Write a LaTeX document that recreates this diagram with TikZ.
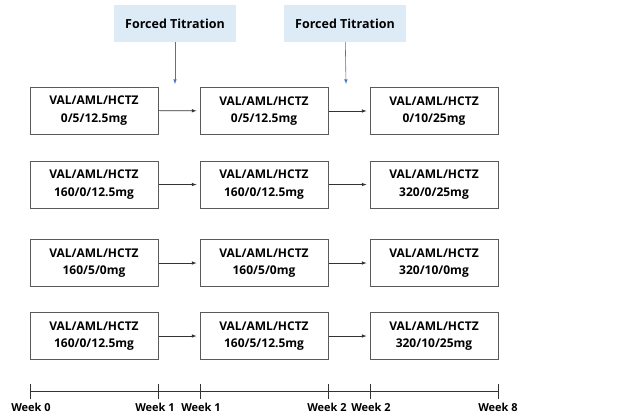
\documentclass[tikz,border=0pt]{standalone}
\usepackage{fontspec}
\setmainfont{Open Sans}
\usetikzlibrary{arrows,positioning,calc}
\definecolor{titrationblue}{RGB}{221,235,247}
\definecolor{arrowblue}{RGB}{68,114,196}
\definecolor{boxgray}{RGB}{90,90,90}

\begin{document}
\begin{tikzpicture}[
    x=1pt,y=-1pt,
    >=latex,
    dosebox/.style={draw=boxgray,line width=1pt,rectangle,minimum width=128pt,minimum height=47pt,align=center,font=\fontsize{12}{17.5}\selectfont\bfseries,inner sep=0pt},
    titbox/.style={draw=none,fill=titrationblue,rectangle,minimum width=122pt,minimum height=37pt,font=\fontsize{12.5}{15}\selectfont\bfseries},
    flow/.style={->,line width=0.6pt,black!80,shorten >=3pt},
    weeklabel/.style={draw=none,anchor=north,inner sep=0pt,font=\fontsize{11}{13}\selectfont\bfseries},
]
\useasboundingbox (0,0) rectangle (618,416);

% Forced titration
\node[titbox] (tit1) at (175,23.5) {Forced Titration};
\node[titbox] (tit2) at (345,23.5) {Forced Titration};
\coordinate (tip1) at (175,84);
\coordinate (tip2) at (346,84);
\draw[->,line width=0.6pt,arrowblue] (tit1) -- (tip1);
\draw[->,line width=0.6pt,arrowblue] (tit2) -- (tip2);

% Row 1
\node[dosebox] (a1) at (94,110.5) {VAL/AML/HCTZ\\0/5/12.5mg};
\node[dosebox] (a2) at (264,111) {VAL/AML/HCTZ\\0/5/12.5mg};
\node[dosebox] (a3) at (434,111) {VAL/AML/HCTZ\\0/10/25mg};

% Row 2
\node[dosebox] (b1) at (94,184.5) {VAL/AML/HCTZ\\160/0/12.5mg};
\node[dosebox] (b2) at (264,184.5) {VAL/AML/HCTZ\\160/0/12.5mg};
\node[dosebox] (b3) at (434,184.5) {VAL/AML/HCTZ\\320/0/25mg};

% Row 3
\node[dosebox] (c1) at (94,263) {VAL/AML/HCTZ\\160/5/0mg};
\node[dosebox] (c2) at (264,263) {VAL/AML/HCTZ\\160/5/0mg};
\node[dosebox] (c3) at (434,263) {VAL/AML/HCTZ\\320/10/0mg};

% Row 4
\node[dosebox] (d1) at (94,336) {VAL/AML/HCTZ\\160/0/12.5mg};
\node[dosebox] (d2) at (264,336) {VAL/AML/HCTZ\\160/5/12.5mg};
\node[dosebox] (d3) at (434,336) {VAL/AML/HCTZ\\320/10/25mg};

% Arrows between boxes
\foreach \r in {a,b,c,d}
{
    \draw[flow] (\r1) -- (\r2);
    \draw[flow] (\r2) -- (\r3);
}

% Timeline
\coordinate (w0) at (30,391);
\coordinate (w1a) at (158,391);
\coordinate (w1b) at (200,391);
\coordinate (w2a) at (328,391);
\coordinate (w2b) at (370,391);
\coordinate (w8) at (498,391);
\draw[line width=0.6pt,black!80] (w0) -- (w8);
\foreach \w in {w0,w1a,w1b,w2a,w2b,w8}
    \draw[line width=0.6pt,black!80] ($(\w)+(0,-7)$) -- ($(\w)+(0,8)$);

% Labels
\node[weeklabel] (l0) at (31,403) {Week 0};
\node[weeklabel] (l1a) at (155,403) {Week 1};
\node[weeklabel] (l1b) at (201,403) {Week 1};
\node[weeklabel] (l2a) at (327,403) {Week 2};
\node[weeklabel] (l2b) at (371,403) {Week 2};
\node[weeklabel] (l8) at (498,403) {Week 8};

\end{tikzpicture}
\end{document}
